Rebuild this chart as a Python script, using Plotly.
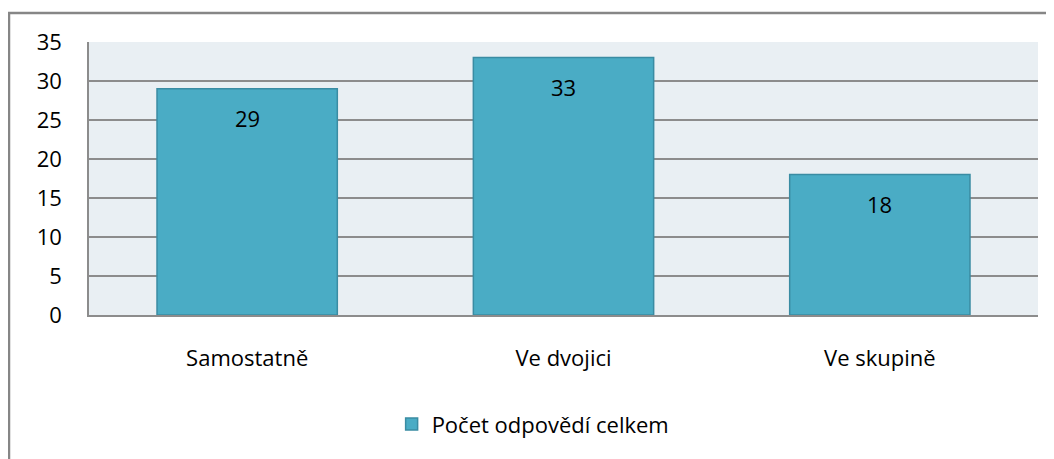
import plotly.graph_objects as go

categories = ["Samostatně", "Ve dvojici", "Ve skupině"]
values = [29, 33, 18]
series_name = "Počet odpovědí celkem"
y_ticks = [0, 5, 10, 15, 20, 25, 30, 35]

FONT = "Open Sans, Noto Sans, sans-serif"
FS = 22

fig = go.Figure()
fig.add_trace(go.Bar(
    x=categories, y=values, name=series_name,
    marker=dict(color="#4AACC5", line=dict(color="#3A8CA3", width=1.5)),
    showlegend=True,
))

for c, v in zip(categories, values):
    fig.add_annotation(x=c, y=v, text=str(v), showarrow=False, yshift=-29,
                       font=dict(family=FONT, size=FS, color="#000000"))

fig.update_layout(
    width=1054, height=459,
    margin=dict(l=81, r=24, t=34, b=152),
    paper_bgcolor="white", plot_bgcolor="#E9EFF3",
    bargap=0.43,
    font=dict(family=FONT, size=FS, color="#000000"),
    showlegend=True,
    legend=dict(orientation="h", x=0.468, xanchor="center", y=-0.40, yanchor="middle",
                font=dict(family=FONT, size=FS), bgcolor="rgba(0,0,0,0)", itemwidth=30),
    shapes=[dict(type="rect", xref="paper", yref="paper",
                 x0=(1 - 81) / 949, x1=1.1, y0=-0.8, y1=1 + (34 - 5) / 273,
                 line=dict(color="#868686", width=2.5), layer="below")],
)
fig.update_yaxes(range=[0, 35], tickvals=y_ticks, showgrid=True, gridcolor="#8C8C8C",
                 gridwidth=2, showline=True, linecolor="#8C8C8C", linewidth=1.5,
                 ticks="", ticklabelstandoff=21, zeroline=False,
                 tickfont=dict(family=FONT, size=FS))
fig.update_xaxes(showline=True, linecolor="#8C8C8C", linewidth=1.5, ticks="",
                 ticklabelstandoff=23, tickfont=dict(family=FONT, size=FS))

fig.write_html("out.html")
